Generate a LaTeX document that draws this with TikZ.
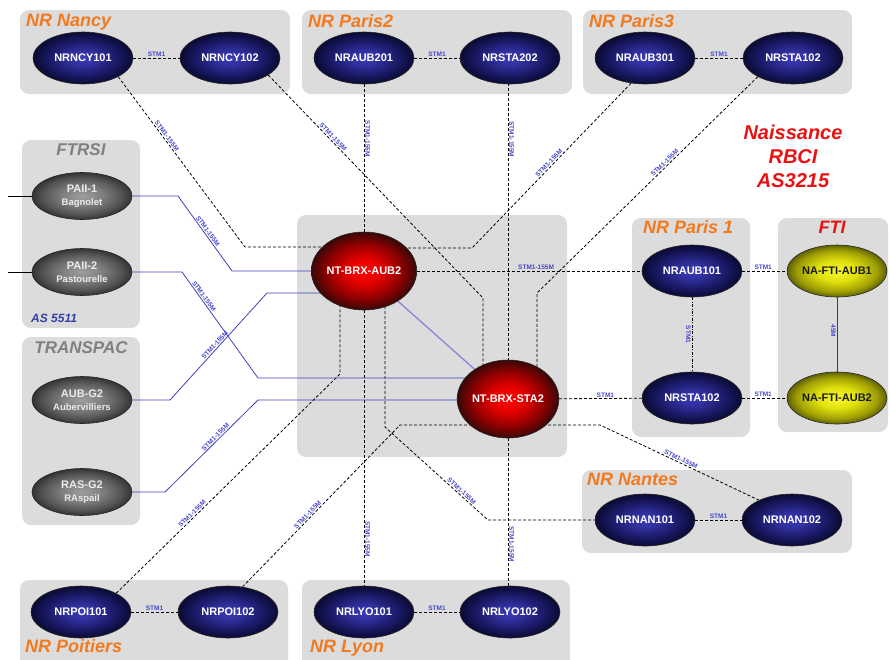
\documentclass[tikz,border=0pt]{standalone}
\usepackage{fontspec}
\setmainfont{Liberation Sans}
\usetikzlibrary{shapes.geometric}

\definecolor{grpfill}{RGB}{220,220,220}
\definecolor{nrorange}{RGB}{242,122,30}
\definecolor{titlegray}{RGB}{128,128,128}
\definecolor{asblue}{RGB}{50,65,165}
\definecolor{alertred}{RGB}{232,18,18}
\definecolor{lblblue}{RGB}{72,72,205}
\definecolor{linkblue}{RGB}{64,64,190}
\definecolor{meshblue}{RGB}{135,135,215}

% ball-like fills for the equipment nodes
\pgfdeclareradialshading{blueball}{\pgfpointorigin}{rgb(0bp)=(0.23,0.23,0.72); rgb(7bp)=(0.19,0.19,0.62); rgb(17bp)=(0.10,0.10,0.40); rgb(25bp)=(0.04,0.04,0.20); rgb(50bp)=(0.04,0.04,0.20)}
\pgfdeclareradialshading{redball}{\pgfpointorigin}{rgb(0bp)=(1,0.02,0.02); rgb(8bp)=(0.9,0,0); rgb(18bp)=(0.55,0,0); rgb(25bp)=(0.22,0.03,0.03); rgb(50bp)=(0.22,0.03,0.03)}
\pgfdeclareradialshading{grayball}{\pgfpointorigin}{rgb(0bp)=(0.62,0.62,0.62); rgb(10bp)=(0.5,0.5,0.5); rgb(20bp)=(0.32,0.32,0.32); rgb(25bp)=(0.2,0.2,0.2); rgb(50bp)=(0.2,0.2,0.2)}
\pgfdeclareradialshading{yellowball}{\pgfpointorigin}{rgb(0bp)=(0.97,0.97,0.2); rgb(10bp)=(0.88,0.88,0.05); rgb(20bp)=(0.62,0.62,0.02); rgb(25bp)=(0.38,0.38,0.02); rgb(50bp)=(0.38,0.38,0.02)}

\pgfdeclarelayer{boxes}
\pgfdeclarelayer{links}
\pgfsetlayers{boxes,links,main}

\tikzset{
  grp/.style={fill=grpfill, rounded corners=9pt},
  eqnode/.style={ellipse, draw=black!85, line width=0.6pt, inner sep=0pt,
    minimum width=100pt, shade, font=\fontsize{11}{13}\selectfont\bfseries},
  nrnode/.style={eqnode, minimum height=52pt, shading=blueball, text=white},
  corenode/.style={eqnode, minimum height=78pt, shading=redball, text=white},
  pnode/.style={eqnode, minimum height=47pt, shading=grayball, text=black!8, align=center},
  ftinode/.style={eqnode, minimum height=52pt, shading=yellowball, text=black!90},
  nrtitle/.style={anchor=base west, inner sep=0pt, text=nrorange,
    font=\fontsize{18}{20}\selectfont\bfseries\itshape},
  optitle/.style={anchor=base, inner sep=0pt, text=titlegray,
    font=\fontsize{17}{20}\selectfont\bfseries\itshape},
  dline/.style={draw=black, line width=0.8pt, dash pattern=on 3pt off 2pt},
  ddline/.style={draw=black, line width=0.8pt, dash pattern=on 3pt off 1.5pt on 0.8pt off 1.5pt},
  bline/.style={draw=linkblue, line width=0.8pt},
  mline/.style={draw=meshblue, line width=1.3pt},
  fline/.style={draw=black!75, line width=0.9pt},
  xline/.style={draw=black, line width=0.8pt},
  lbl/.style={inner sep=1pt, text=lblblue, font=\fontsize{6.5}{7}\selectfont\bfseries},
  vlbl/.style={lbl, rotate=-90},
}

\begin{document}
\begin{tikzpicture}[x=1pt, y=-1pt]
\useasboundingbox (0,0) rectangle (890,659);

% ---------- site areas ----------
\begin{pgfonlayer}{boxes}
\begin{scope}
  \clip (0,0) rectangle (890,659);
  \fill[grp] (20,10) rectangle (290,94);
  \fill[grp] (302,10) rectangle (572,94);
  \fill[grp] (583,10) rectangle (852,94);
  \fill[grp] (22,140) rectangle (140,328);
  \fill[grp] (22,337) rectangle (140,525);
  \fill[grp] (297,215) rectangle (567,457);
  \fill[grp] (632,218) rectangle (750,437);
  \fill[grp] (778,218) rectangle (888,432);
  \fill[grp] (582,470) rectangle (852,553);
  \fill[grp] (20,580) rectangle (288,675);
  \fill[grp] (302,580) rectangle (570,675);
\end{scope}
\end{pgfonlayer}

% ---------- area titles ----------
\node[nrtitle] (tNancy)  at (26,26)  {NR Nancy};
\node[nrtitle] (tParis2) at (308,27) {NR Paris2};
\node[nrtitle] (tParis3) at (589,27) {NR Paris3};
\node[nrtitle] (tParis1) at (643,233) {NR Paris 1};
\node[nrtitle] (tNantes) at (587,485) {NR Nantes};
\node[nrtitle] (tPoit)   at (25,652) {NR Poitiers};
\node[nrtitle] (tLyon)   at (310,652) {NR Lyon};
\node[optitle] (tFtrsi)  at (81,155) {FTRSI};
\node[optitle] (tTransp) at (81,353) {TRANSPAC};
\node[optitle, text=alertred, font=\fontsize{18}{20}\selectfont\bfseries\itshape] (tFti) at (832,233) {FTI};
\node[anchor=base west, inner sep=0pt, text=asblue, font=\fontsize{12}{14}\selectfont\bfseries\itshape] (tAs) at (31,322) {AS 5511};
\node[align=center, text=alertred, font=\fontsize{20}{24}\selectfont\bfseries\itshape] (naiss) at (793,156) {Naissance\\RBCI\\AS3215};

% ---------- equipment ----------
\node[nrnode] (ncy101)  at (83,58)   {NRNCY101};
\node[nrnode] (ncy102)  at (230,58)  {NRNCY102};
\node[nrnode] (aub201)  at (364,58)  {NRAUB201};
\node[nrnode] (sta202)  at (510,58)  {NRSTA202};
\node[nrnode] (aub301)  at (645,58)  {NRAUB301};
\node[nrnode] (sta102t) at (793,58)  {NRSTA102};

\node[pnode] (pai1)  at (82,196) {PAII-1\\{\fontsize{9.5}{11}\selectfont Bagnolet}};
\node[pnode] (pai2)  at (82,272) {PAII-2\\{\fontsize{9.5}{11}\selectfont Pastourelle}};
\node[pnode] (aubg2) at (82,400) {AUB-G2\\{\fontsize{9.5}{11}\selectfont Aubervilliers}};
\node[pnode] (rasg2) at (82,492) {RAS-G2\\{\fontsize{9.5}{11}\selectfont RAspail}};

\node[corenode] (aub2) at (364,271) {NT-BRX-AUB2};
\node[corenode] (sta2) at (508,399) {NT-BRX-STA2};

\node[nrnode] (aub101) at (692,271) {NRAUB101};
\node[nrnode] (sta102) at (692,398) {NRSTA102};
\node[ftinode] (fti1) at (837,271) {NA-FTI-AUB1};
\node[ftinode] (fti2) at (837,398) {NA-FTI-AUB2};

\node[nrnode] (nan101) at (645,520) {NRNAN101};
\node[nrnode] (nan102) at (792,520) {NRNAN102};
\node[nrnode] (poi101) at (81,612)  {NRPOI101};
\node[nrnode] (poi102) at (228,612) {NRPOI102};
\node[nrnode] (lyo101) at (364,612) {NRLYO101};
\node[nrnode] (lyo102) at (510,612) {NRLYO102};

% ---------- links ----------
\begin{pgfonlayer}{links}
  % bend points
  \coordinate (bNcy1)  at (245,247);
  \coordinate (bNcy2)  at (483,298);
  \coordinate (bAub3)  at (472,248);
  \coordinate (bSta1)  at (537,293);
  \coordinate (bPaiA)  at (178,196);
  \coordinate (bPaiB)  at (232,271);
  \coordinate (bPbiA)  at (182,272);
  \coordinate (bPbiB)  at (258,378);
  \coordinate (bAugA)  at (170,400);
  \coordinate (bAugB)  at (267,293);
  \coordinate (bRasA)  at (165,492);
  \coordinate (bRasB)  at (258,400);
  \coordinate (bPoi1)  at (340,374);
  \coordinate (bPoi2)  at (400,425);
  \coordinate (bNanA)  at (385,427);
  \coordinate (bNanB)  at (488,520);
  \coordinate (bNan2)  at (600,425);
  \coordinate (in1)    at (8,196);
  \coordinate (in2)    at (8,272);

  % links inside each area
  \draw[dline] (ncy101) -- node[lbl, above] {STM1} (ncy102);
  \draw[dline] (aub201) -- node[lbl, above] {STM1} (sta202);
  \draw[dline] (aub301) -- node[lbl, above] {STM1} (sta102t);
  \draw[dline] (nan101) -- node[lbl, above] {STM1} (nan102);
  \draw[dline] (poi101) -- node[lbl, above] {STM1} (poi102);
  \draw[dline] (lyo101) -- node[lbl, above] {STM1} (lyo102);
  \draw[ddline] (aub101) -- node[vlbl, anchor=north] {STM1} (sta102);
  \draw[fline] (fti1) -- node[vlbl, anchor=north, pos=0.45] {45M} (fti2);

  % backbone between the two cores
  \draw[mline] (aub2) -- (sta2);

  % uplinks from the regional rings
  \draw[dline] (ncy101.-28) -- node[lbl, sloped, above, pos=0.36] {STM1-155M} (bNcy1) -- (aub2 |- bNcy1);
  \draw[dline] (ncy102.-24) -- node[lbl, sloped, above, pos=0.29] {STM1-155M} (bNcy2) -- (bNcy2 |- sta2);
  \draw[dline] (aub201) -- node[vlbl, anchor=south, pos=0.37] {STM1-155M} (aub2);
  \draw[dline] (sta2 |- sta202) -- node[vlbl, anchor=south, pos=0.27] {STM1-155M} (sta2);
  \draw[dline] (aub301.-119) -- node[lbl, sloped, above, pos=0.5] {STM1-155M} (bAub3) -- (aub2 |- bAub3);
  \draw[dline] (sta102t.-152) -- node[lbl, sloped, above, pos=0.41] {STM1-155M} (bSta1) -- (bSta1 |- sta2);

  \draw[dline] (aub2) -- node[lbl, above, pos=0.53] {STM1-155M} (aub101);
  \draw[dline] (sta2) -- node[lbl, above, pos=0.56] {STM1} (sta102);
  \draw[dline] (aub101) -- node[lbl, above, pos=0.47] {STM1} (fti1);
  \draw[dline] (sta102) -- node[lbl, above, pos=0.47] {STM1} (fti2);

  \draw[dline] (aub2) -- node[vlbl, anchor=south, pos=0.83] {STM1-155M} (lyo101);
  \draw[dline] (sta2) -- node[vlbl, anchor=south, pos=0.61] {STM1-155M} (sta2 |- lyo102);
  \draw[dline] (poi101.28) -- node[lbl, sloped, above, pos=0.35] {STM1-155M} (bPoi1) -- (bPoi1 |- aub2);
  \draw[dline] (poi102.60) -- node[lbl, sloped, above, pos=0.43] {STM1-155M} (bPoi2) -- (sta2 |- bPoi2);
  \draw[dline] (bNanA |- aub2) -- (bNanA) -- node[lbl, sloped, above, pos=0.72] {STM1-155M} (bNanB) -- (nan101);
  \draw[dline] (sta2 |- bNan2) -- (bNan2) -- node[lbl, sloped, above, pos=0.5] {STM1-155M} (nan102.149);

  % transit links from the FTRSI and TRANSPAC gateways
  \draw[bline] (pai1) -- (bPaiA) -- node[lbl, sloped, above, pos=0.5] {STM1-155M} (bPaiB) -- (aub2);
  \draw[bline] (pai2) -- (bPbiA) -- node[lbl, sloped, above, pos=0.25] {STM1-155M} (bPbiB) -- (sta2 |- bPbiB);
  \draw[bline] (aubg2) -- (bAugA) -- node[lbl, sloped, above, pos=0.49] {STM1-155M} (bAugB) -- (aub2 |- bAugB);
  \draw[bline] (rasg2) -- (bRasA) -- node[lbl, sloped, above, pos=0.57] {STM1-155M} (bRasB) -- (sta2 |- bRasB);

  \draw[xline] (in1) -- (pai1);
  \draw[xline] (in2) -- (pai2);
\end{pgfonlayer}
\end{tikzpicture}
\end{document}
